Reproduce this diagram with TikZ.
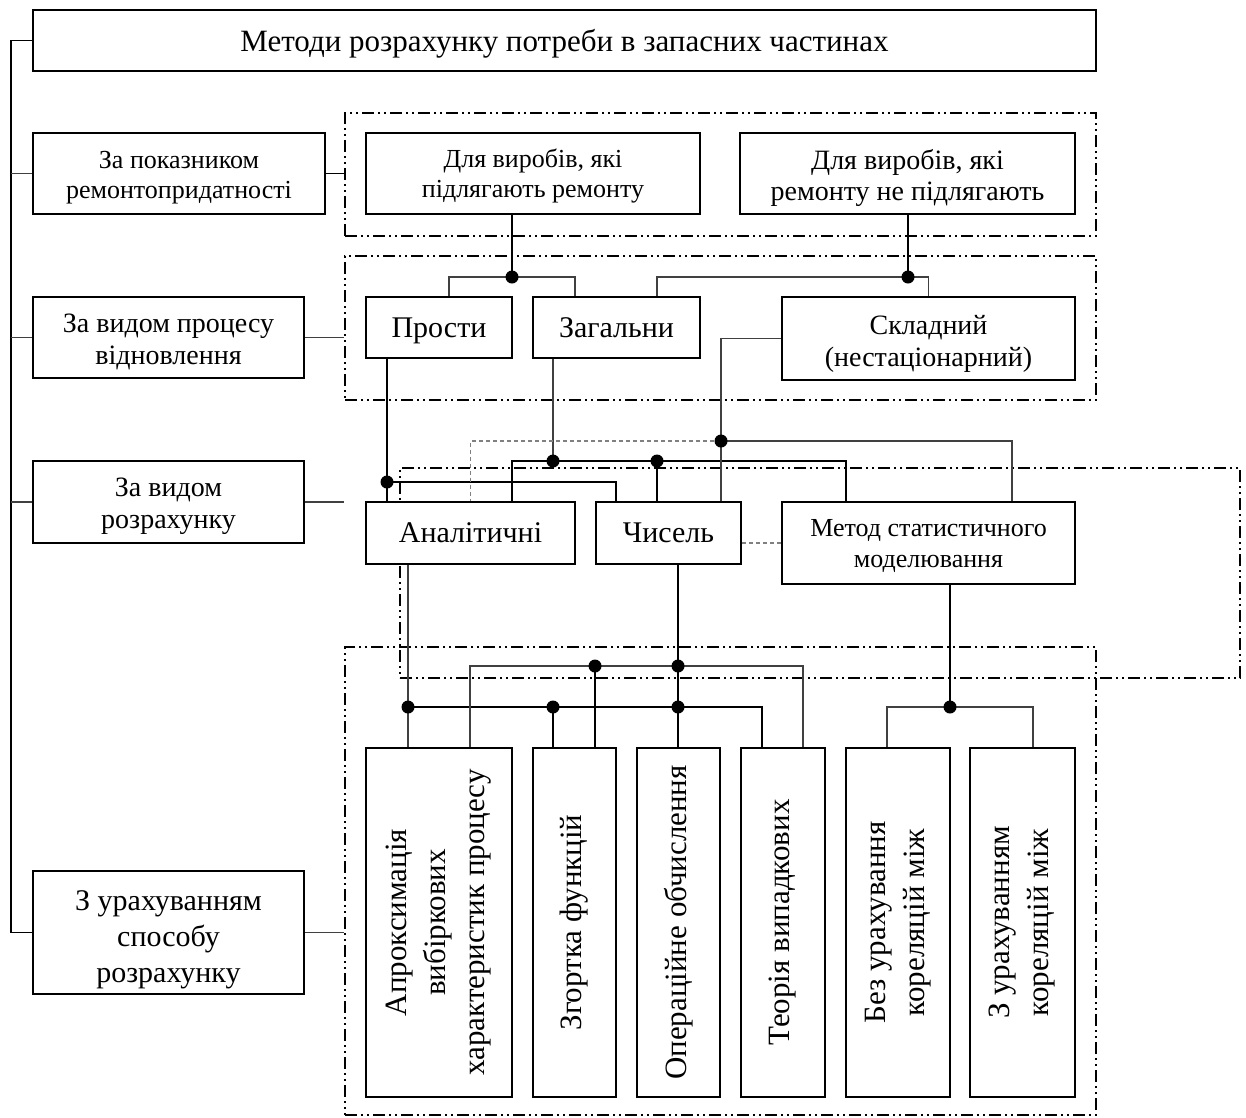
\documentclass[tikz,border=0pt]{standalone}
\usepackage{fontspec}
\setmainfont{Liberation Serif}
\usetikzlibrary{positioning,calc}

\tikzset{
  box/.style={draw, fill=white, line width=2pt, align=center, inner sep=2pt, font=\fontsize{28}{32}\selectfont},
  onebox/.style={box, text height=23pt, text depth=4pt},
  vbox/.style={box, rotate=90, font=\fontsize{31}{39}\selectfont},
  grp/.style={draw, line width=1.6pt, dash pattern=on 12pt off 4pt on 2pt off 4pt on 2pt off 4pt},
  conn/.style={line width=1.6pt},
  thinconn/.style={line width=1.2pt, black!75},
  grey/.style={line width=1.1pt, gray, dash pattern=on 4pt off 3pt}
}

\begin{document}
\begin{tikzpicture}[x=1pt, y=-1pt]
\useasboundingbox (0,0) rectangle (1246,1117);

% groups
\node[grp, minimum width=751pt, minimum height=123pt] (gRepair) at (720.5,174.5) {};
\node[grp, minimum width=751pt, minimum height=144pt] (gProc) at (720.5,328) {};
\node[grp, minimum width=840pt, minimum height=210pt] (gCalc) at (820,573) {};
\node[grp, minimum width=751pt, minimum height=468pt] (gWay) at (720.5,881) {};

% title and left column
\node[onebox, text height=25pt, minimum width=1063pt, minimum height=61pt, font=\fontsize{31}{34}\selectfont] (title) at (564.5,40.5) {Методи розрахунку потреби в запасних частинах};
\node[box, text height=55pt, minimum width=292pt, minimum height=81pt, font=\fontsize{26}{30}\selectfont] (byRepair) at (179,173.5) {За показником\\ремонтопридатності};
\node[box, text height=59pt, minimum width=271pt, minimum height=81pt] (byProcess) at (168.5,337.5) {За видом процесу\\відновлення};
\node[box, text height=59pt, minimum width=271pt, minimum height=82pt] (byCalc) at (168.5,502) {За видом\\розрахунку};
\node[box, text height=106pt, minimum width=271pt, minimum height=123pt, font=\fontsize{30}{36}\selectfont] (byWay) at (168.5,932.5) {З урахуванням\\способу\\розрахунку};

% repairability
\node[box, text height=54pt, minimum width=334pt, minimum height=81pt, font=\fontsize{26}{30}\selectfont] (rep) at (533,173.5) {Для виробів, які\\підлягають ремонту};
\node[box, text height=60pt, minimum width=335pt, minimum height=81pt, font=\fontsize{28}{31}\selectfont] (norep) at (907.5,173.5) {Для виробів, які\\ремонту не підлягають};

% renewal process
\node[onebox, minimum width=146pt, minimum height=61pt, font=\fontsize{30}{34}\selectfont] (prosti) at (439,327.5) {Прости};
\node[onebox, minimum width=167pt, minimum height=61pt, font=\fontsize{30}{34}\selectfont] (zag) at (616.5,327.5) {Загальни};
\node[box, text height=61pt, minimum width=293pt, minimum height=83pt, font=\fontsize{28}{32}\selectfont] (sklad) at (928.5,338.5) {Складний\\(нестаціонарний)};

% calculation
\node[onebox, minimum width=209pt, minimum height=62pt, font=\fontsize{30}{34}\selectfont] (anal) at (470.5,533) {Аналітичні};
\node[onebox, minimum width=145pt, minimum height=62pt, font=\fontsize{30}{34}\selectfont] (chys) at (668.5,533) {Чисель};
\node[box, text height=55pt, minimum width=293pt, minimum height=82pt, font=\fontsize{26}{31}\selectfont] (stat) at (928.5,543) {Метод статистичного\\моделювання};

% methods
\node[vbox, minimum width=349pt, minimum height=146pt] (approx) at (439,922.5) {Апроксимація\\вибіркових\\характеристик процесу};
\node[vbox, minimum width=349pt, minimum height=83pt] (zgor) at (574.5,922.5) {Згортка функцій};
\node[vbox, minimum width=349pt, minimum height=83pt] (oper) at (678.5,922.5) {Операційне обчислення};
\node[vbox, minimum width=349pt, minimum height=84pt] (teor) at (783,922.5) {Теорія випадкових};
\node[vbox, minimum width=349pt, minimum height=104pt] (bez) at (898,922.5) {Без урахування\\кореляцій між};
\node[vbox, minimum width=349pt, minimum height=105pt] (zur) at (1022.5,922.5) {З урахуванням\\кореляцій між};

% left bus
\draw[conn] (title.west) -- ++(-21,0) coordinate (bus) |- (byWay.west);
\foreach \n in {byRepair,byProcess,byCalc}
  \draw[thinconn] (\n.west) -- (\n.west -| bus);
\draw[conn] (byRepair.east) -- (byRepair.east -| gRepair.west);
\draw[thinconn] (byProcess.east) -- (byProcess.east -| gProc.west);
\draw[thinconn] (byCalc.east) -- (byCalc.east -| gProc.west);
\draw[thinconn] (byWay.east) -- (byWay.east -| gWay.west);

% junctions
\coordinate (jRep) at (512,277);
\coordinate (jNoRep) at (908,277);
\coordinate (jPr) at (387,482);
\coordinate (jZag) at (553,461);
\coordinate (jZagCh) at (657,461);
\coordinate (jSk) at (721,441);
\coordinate (jAn) at (408,707);
\coordinate (jAnZ) at (553,707);
\coordinate (jAnO) at (678,707);
\coordinate (jCh) at (678,666);
\coordinate (jChZ) at (595,666);
\coordinate (jSt) at (950,707);

% repairability -> process
\draw[conn] (rep.south -| jRep) -- (jRep);
\draw[thinconn] ([xshift=10pt]prosti.north) |- (jRep) -| ([xshift=-41.5pt]zag.north);
\draw[conn] (norep.south -| jNoRep) -- (jNoRep);
\draw[thinconn] ([xshift=40.5pt]zag.north) |- (jNoRep) -| (sklad.north);

% process -> calculation
\draw[conn] ([xshift=-52pt]prosti.south) -- (jPr) -- (jPr |- anal.north);
\draw[conn] (jPr) -| ([xshift=-52.5pt]chys.north);
\draw[thinconn] (zag.south -| jZag) -- (jZag);
\draw[conn] ([xshift=41.5pt]anal.north) |- (jZag) -- (jZagCh) -| ([xshift=-82.5pt]stat.north);
\draw[conn] (jZagCh) -- (jZagCh |- chys.north);
\draw[thinconn] (sklad.west) -| (jSk) -- (jSk |- chys.north);
\draw[thinconn] (jSk) -| ([xshift=83.5pt]stat.north);
\draw[grey] (jSk) -| (anal.north);
\draw[grey] ([yshift=-10pt]chys.east) -- ([yshift=-10pt]chys.east -| stat.west);

% calculation -> methods
\draw[thinconn] (anal.south -| jAn) -- (jAn |- approx.east);
\draw[conn] (jAn) -| ([xshift=-21pt]teor.east);
\draw[conn] (jAnZ) -- (jAnZ |- zgor.east);
\draw[conn] (chys.south -| jCh) -- (jCh |- oper.east);
\draw[thinconn] ([xshift=31pt]approx.east) |- (jChZ) -- (jCh) -| ([xshift=20pt]teor.east);
\draw[conn] (jChZ) -- (jChZ |- zgor.east);
\draw[conn] (stat.south -| jSt) -- (jSt);
\draw[thinconn] ([xshift=-11pt]bez.east) |- (jSt) -| ([xshift=10.5pt]zur.east);

\foreach \j in {jRep,jNoRep,jPr,jZag,jZagCh,jSk,jAn,jAnZ,jAnO,jCh,jChZ,jSt}
  \fill (\j) circle (6.5pt);
\end{tikzpicture}
\end{document}
